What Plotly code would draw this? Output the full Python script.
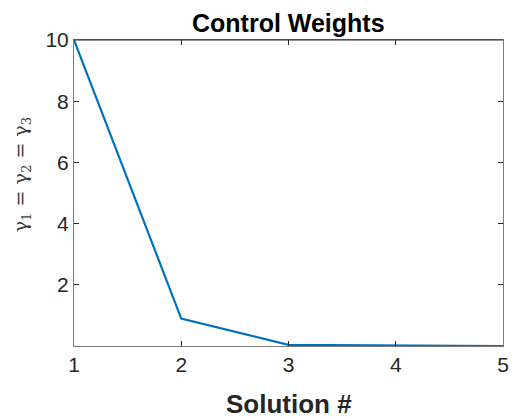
import plotly.graph_objects as go

solutions = [1, 2, 3, 4, 5]
gammas = [10, 0.9, 0.04, 0.01, 0.003]
x_ticks = [1, 2, 3, 4, 5]
y_ticks = [2, 4, 6, 8, 10]

line_color = '#0072BD'
tick_color = '#262626'
axis_color = '#7a7a7a'

fig = go.Figure(go.Scatter(x=solutions, y=gammas, mode='lines',
                           line=dict(color=line_color, width=2.2)))

# page has an 8px body margin, so the figure is shrunk by that amount
fig.update_layout(
    width=510, height=411,
    margin=dict(l=66, r=9, t=32, b=73),
    paper_bgcolor='white', plot_bgcolor='white',
    showlegend=False,
    font=dict(family='Liberation Sans, Arial', color=tick_color),
)
fig.update_xaxes(
    range=[1, 5], tickvals=x_ticks, ticks='inside', ticklen=5,
    tickcolor=tick_color, linecolor=axis_color, linewidth=1, mirror='ticks',
    showgrid=False, zeroline=False, tickfont=dict(size=21),
)
fig.update_yaxes(
    range=[min(gammas), 10], tickvals=y_ticks, ticks='inside', ticklen=5,
    tickcolor=tick_color, linecolor=axis_color, linewidth=1, mirror='ticks',
    showgrid=False, zeroline=False, tickfont=dict(size=21),
)
# dark top edge of the box
fig.add_shape(type='line', xref='paper', yref='paper', x0=0, x1=1, y0=1, y1=1,
              line=dict(color=tick_color, width=1))

fig.add_annotation(text='<b>Control Weights</b>', xref='paper', yref='paper',
                   x=0.5, y=1.0, xanchor='center', yanchor='bottom', yshift=1,
                   showarrow=False, font=dict(size=25, color='black'))
fig.add_annotation(text='<b>Solution #</b>', xref='paper', yref='paper',
                   x=0.5, y=-0.188, xanchor='center', yanchor='middle',
                   showarrow=False, font=dict(size=26, color=tick_color))
fig.add_annotation(text='γ<sub>1</sub> = γ<sub>2</sub> = γ<sub>3</sub>',
                   xref='paper', yref='paper', x=-0.122, y=0.56,
                   xanchor='center', yanchor='middle', textangle=-90, showarrow=False,
                   font=dict(size=19, family='DejaVu Serif, Liberation Serif', color='#3a3a3a'))

fig.write_html('out.html')
